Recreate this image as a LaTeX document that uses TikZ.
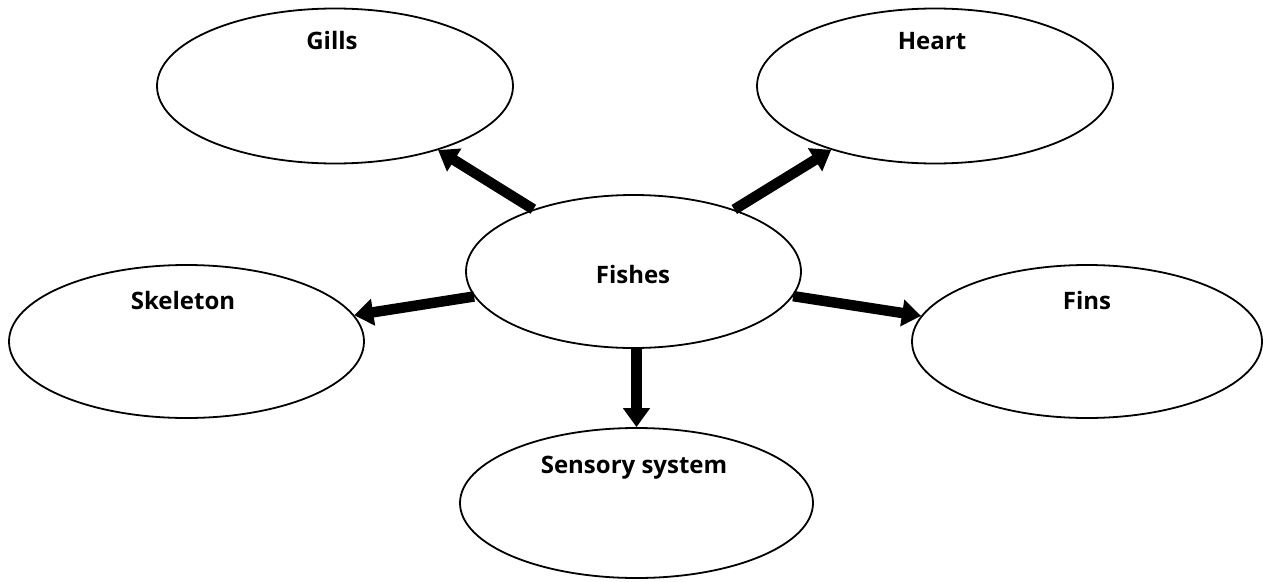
\documentclass[tikz,border=0pt]{standalone}
\usepackage{fontspec}
\setmainfont{Open Sans}
\usetikzlibrary{arrows.meta,shapes.geometric}
\tikzset{
  bubble/.style={draw=black, line width=1.8pt, ellipse, inner sep=0pt, fill=white},
  lbl/.style={font=\bfseries\fontsize{24pt}{27pt}\selectfont, anchor=base, inner sep=0pt},
  bigarrow/.style={line width=10.5pt, -{Triangle[width=26pt,length=19pt]}}
}
\begin{document}
\begin{tikzpicture}[x=1pt,y=-1pt]
\useasboundingbox (0,0) rectangle (1263,581);
\node[bubble, minimum width=356pt, minimum height=155pt] (gills) at (335,86) {};
\node[bubble, minimum width=356pt, minimum height=155pt] (heart) at (935,86) {};
\node[bubble, minimum width=355pt, minimum height=153pt] (skeleton) at (186.5,341.5) {};
\node[bubble, minimum width=350pt, minimum height=153pt] (fins) at (1087,341.5) {};
\node[bubble, minimum width=335pt, minimum height=153pt] (fishes) at (633.5,271.5) {};
\node[bubble, minimum width=353pt, minimum height=150pt] (sensory) at (636.5,503) {};
\node[lbl] (gillsT) at (332,49) {Gills};
\node[lbl] (heartT) at (932,49) {Heart};
\node[lbl] (skeletonT) at (183,309) {Skeleton};
\node[lbl] (finsT) at (1087,309) {Fins};
\node[lbl] (fishesT) at (633,283) {Fishes};
\node[lbl] (sensoryT) at (634,473) {Sensory system};
\draw[bigarrow] (fishes) -- (gills);
\draw[bigarrow] (fishes) -- (heart);
\draw[bigarrow] (fishes) -- (skeleton);
\draw[bigarrow] (fishes) -- (fins);
\draw[bigarrow] (fishes.south -| sensory.north) -- (sensory.north);
\end{tikzpicture}
\end{document}
